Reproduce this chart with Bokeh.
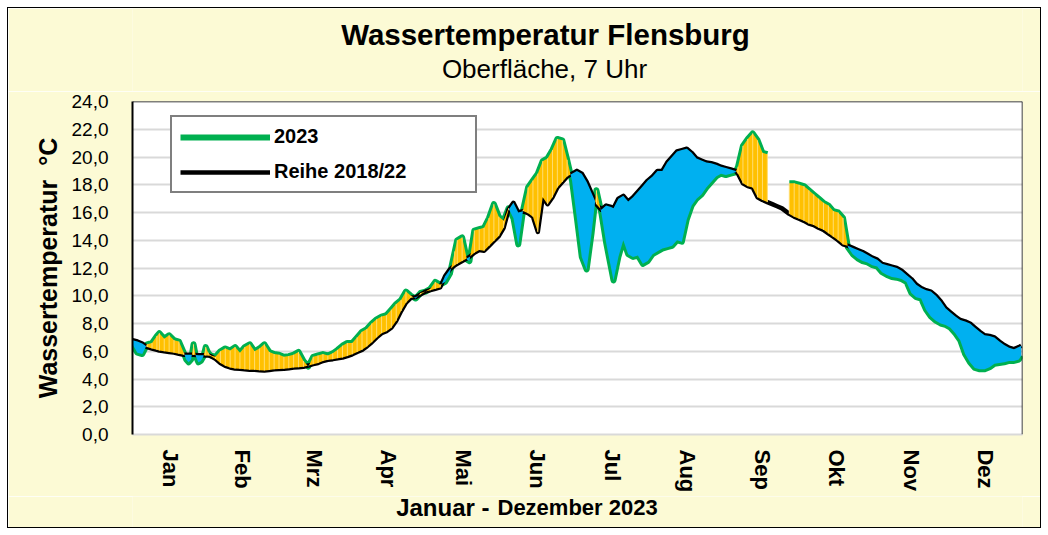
import numpy as np
from bokeh.plotting import figure
from bokeh.layouts import column
from bokeh.models import FixedTicker, Legend, LegendItem, Span, Range1d
from bokeh.core.properties import value
from bokeh.embed import file_html
from bokeh.resources import INLINE

# ---------------- data ----------------
months = ["Jan", "Feb", "Mrz", "Apr", "Mai", "Jun", "Jul", "Aug", "Sep", "Okt", "Nov", "Dez"]
month_len = [31, 28, 31, 30, 31, 30, 31, 31, 30, 31, 30, 31]
y_ticks = [0, 2, 4, 6, 8, 10, 12, 14, 16, 18, 20, 22, 24]

# day of year (0 = 1 Jan)
days = [0, 2, 4, 6, 8, 10, 11, 13, 15, 17, 19, 21, 22, 23, 24, 25, 26, 27, 28, 29,
        30, 31, 32, 34, 36, 38, 40, 42, 44, 46, 48, 50, 52, 54, 56, 58, 60, 62, 64, 66,
        68, 70, 72, 74, 76, 78, 80, 82, 84, 86, 88, 90, 92, 94, 96, 98, 100, 102, 104, 106,
        108, 110, 112, 114, 116, 118, 120, 122, 124, 126, 128, 130, 132, 133, 135, 137, 138, 140, 142, 144,
        146, 148, 150, 152, 154, 156, 158, 160, 162, 164, 166, 168, 170, 172, 174, 176, 178, 180, 182, 184,
        186, 188, 190, 192, 194, 196, 197, 199, 201, 203, 205, 207, 209, 211, 213, 215, 217, 219, 221, 223,
        225, 227, 229, 231, 233, 235, 237, 239, 241, 243, 245, 247, 248, 250, 252, 254, 256, 258, 260, 262,
        264, 266, 269, 271, 273, 275, 277, 279, 281, 283, 285, 287, 289, 291, 293, 295, 297, 299, 301, 303,
        305, 307, 309, 311, 313, 315, 317, 319, 321, 323, 325, 327, 329, 331, 333, 335, 337, 339, 341, 343,
        345, 347, 349, 351, 353, 355, 357, 359, 361, 363, 364]

nan = float("nan")
t_2023 = [6.5, 5.9, 5.8, 6.5, 6.6, 7.1, 7.3, 6.9, 7.15, 6.8, 6.7, 5.9, 5.4, 5.2, 5.4, 6.5, 5.6, 5.2, 5.3, 5.6,
          6.3, 5.9, 5.7, 5.6, 6.0, 6.2, 6.05, 6.3, 5.9, 6.3, 6.5, 6.0, 6.2, 6.5, 5.95, 5.8, 5.75, 5.6, 5.65, 5.75,
          5.95, 5.3, 4.9, 5.6, 5.7, 5.8, 5.7, 5.85, 6.1, 6.4, 6.6, 6.6, 7.0, 7.4, 7.6, 8.0, 8.3, 8.5, 8.6, 9.0,
          9.4, 9.7, 10.3, 10.0, 9.8, 10.2, 10.3, 10.5, 11.0, 10.8, 11.0, 11.6, 13.2, 14.0, 14.2, 12.6, 12.5, 14.7, 14.8, 14.9,
          15.6, 16.6, 15.7, 15.4, 16.3, 15.6, 13.7, 16.2, 17.8, 18.3, 18.8, 19.7, 19.9, 20.5, 21.3, 21.2, 19.8, 18.3, 15.6, 12.8,
          11.9, 14.5, 17.6, 16.0, 13.8, 12.0, 11.1, 12.8, 14.0, 13.0, 12.8, 12.9, 12.3, 12.5, 13.0, 13.2, 13.4, 13.5, 13.6, 14.0,
          13.9, 15.5, 16.5, 17.0, 17.3, 17.8, 18.2, 18.6, 18.8, 18.7, 18.8, 18.9, 19.3, 20.8, 21.3, 21.7, 21.2, 20.3, 20.2, nan,
          nan, nan, 18.1, 18.1, 18.0, 17.9, 17.6, 17.3, 17.0, 16.7, 16.5, 16.1, 16.0, 15.6, 13.5, 13.0, 12.7, 12.5, 12.4, 12.2,
          12.1, 11.7, 11.5, 11.35, 11.3, 11.2, 11.0, 10.2, 9.9, 9.8, 9.0, 8.5, 8.2, 8.0, 7.9, 7.7, 7.3, 6.8, 5.8, 5.2,
          4.8, 4.7, 4.7, 4.85, 5.1, 5.15, 5.2, 5.3, 5.3, 5.4, 5.7]

t_reihe = [6.8, 6.7, 6.55, 6.3, 6.2, 6.1, 6.05, 6.0, 5.95, 5.9, 5.82, 5.75, 5.75, 5.74, 5.74, 5.74, 5.73, 5.72, 5.72, 5.71,
           5.7, 5.7, 5.65, 5.45, 5.15, 4.95, 4.83, 4.75, 4.73, 4.7, 4.66, 4.66, 4.63, 4.62, 4.65, 4.7, 4.72, 4.73, 4.78, 4.83,
           4.85, 4.88, 4.97, 5.07, 5.15, 5.3, 5.38, 5.43, 5.5, 5.55, 5.65, 5.78, 5.95, 6.1, 6.35, 6.65, 7.0, 7.3, 7.45, 7.7,
           8.2, 8.9, 9.5, 9.85, 9.9, 10.1, 10.3, 10.4, 10.5, 10.6, 11.4, 11.9, 12.2, 12.3, 12.5, 12.7, 12.8, 13.1, 13.3, 13.25,
           13.6, 13.95, 14.3, 14.9, 16.2, 16.7, 16.0, 16.1, 15.95, 15.7, 14.6, 17.1, 16.6, 17.1, 17.8, 18.2, 18.6, 18.8, 19.0, 18.8,
           18.2, 17.4, 16.6, 16.2, 16.5, 16.4, 16.3, 17.0, 17.2, 16.8, 17.1, 17.5, 17.9, 18.3, 18.6, 19.0, 19.0, 19.6, 20.0, 20.4,
           20.5, 20.6, 20.3, 19.9, 19.75, 19.6, 19.55, 19.45, 19.3, 19.2, 19.1, 19.0, 18.8, 18.1, 17.9, 17.8, 17.1, 16.9, 16.75, 16.6,
           16.45, 16.3, 15.9, 15.7, 15.55, 15.4, 15.2, 15.1, 14.9, 14.75, 14.5, 14.25, 14.0, 13.7, 13.6, 13.45, 13.3, 13.15, 12.95, 12.75,
           12.6, 12.3, 12.2, 12.1, 12.0, 11.8, 11.5, 11.2, 10.8, 10.55, 10.4, 10.3, 10.0, 9.6, 9.1, 8.8, 8.5, 8.25, 8.15, 8.0,
           7.7, 7.4, 7.15, 7.1, 7.0, 6.7, 6.45, 6.25, 6.15, 6.3, 6.4]

title_text = "Wassertemperatur Flensburg"
subtitle_text = "Oberfläche, 7 Uhr"
xtitle_parts = ["Januar -", "Dezember 2023"]
ytitle_text = "Wassertemperatur\u00a0\u00a0°C"

# ---------------- styling ----------------
FONT = "Liberation Sans"
BG = "#FCFAD5"
GREEN = "#00B050"
GOLD = "#FFC000"
STRIPE = "#FFDD70"
BLUE = "#00B0F0"
W = 1032
HEAD_H, MAIN_H, FOOT_H = 83, 405, 31
FRAME_L, FRAME_R = 132, 1022     # page pixel span of the plot frame (header/footer align to it)


def text_strip(height):
    f = figure(width=W, height=height, output_backend="svg", toolbar_location=None, title=None,
               x_range=Range1d(FRAME_L, FRAME_R), y_range=Range1d(0, height),
               x_axis_type=None, y_axis_type=None, min_border=0,
               background_fill_color=BG, border_fill_color=BG)
    f.outline_line_color = None
    f.grid.visible = False
    return f


# ---- header with title and subtitle ----
head = text_strip(HEAD_H)
head.text(x=[545], y=[57], text=[title_text], text_font=value(FONT), text_font_size="29.5px",
          text_font_style="bold", text_color="black", text_align="center", text_baseline="alphabetic")
head.text(x=[544], y=[23], text=[subtitle_text], text_font=value(FONT), text_font_size="26px",
          text_font_style="normal", text_color="black", text_align="center", text_baseline="alphabetic")

# ---- footer with x-axis title ----
foot = text_strip(FOOT_H)
foot.text(x=[489], y=[20], text=[xtitle_parts[0]], text_font=value(FONT), text_font_size="24px",
          text_font_style="bold", text_color="black", text_align="right", text_baseline="alphabetic")
foot.text(x=[497], y=[20], text=[xtitle_parts[1]], text_font=value(FONT), text_font_size="22px",
          text_font_style="bold", text_color="black", text_align="left", text_baseline="alphabetic")

# ---- main chart ----
n_days = sum(month_len)
starts = np.cumsum([0] + month_len[:-1])
centers = []
for s, l in zip(starts, month_len):
    c = s + l / 2
    centers.append(int(c) if float(c).is_integer() else float(c))

p = figure(width=W, height=MAIN_H, output_backend="svg", toolbar_location=None, title=None,
           x_range=Range1d(0, n_days - 0.5), y_range=Range1d(0, 24),
           min_border_left=124, min_border_right=18, min_border_top=10, min_border_bottom=62,
           background_fill_color="white", border_fill_color=BG)

p.outline_line_color = None
p.xgrid.grid_line_color = None
p.ygrid.grid_line_color = "#D9D9D9"
p.ygrid.grid_line_width = 2
p.ygrid.ticker = FixedTicker(ticks=y_ticks)

p.yaxis.ticker = FixedTicker(ticks=y_ticks)
p.yaxis.major_label_overrides = {t: f"{t},0" for t in y_ticks}
p.yaxis.axis_line_color = "black"
p.yaxis.axis_line_width = 2
p.yaxis.major_tick_line_color = None
p.yaxis.minor_tick_line_color = None
p.yaxis.major_label_text_font = FONT
p.yaxis.major_label_text_font_size = "19px"
p.yaxis.major_label_text_color = "black"
p.yaxis.major_label_standoff = 18
p.yaxis.axis_label = ytitle_text
p.yaxis.axis_label_text_font = FONT
p.yaxis.axis_label_text_font_size = "25px"
p.yaxis.axis_label_text_font_style = "bold"
p.yaxis.axis_label_text_color = "black"
p.yaxis.axis_label_standoff = 7

p.xaxis.ticker = FixedTicker(ticks=centers)
p.xaxis.major_label_overrides = {c: m for c, m in zip(centers, months)}
p.xaxis.major_label_orientation = "vertical"
p.xaxis.axis_line_color = "#D9D9D9"
p.xaxis.axis_line_width = 2
p.xaxis.major_tick_line_color = None
p.xaxis.minor_tick_line_color = None
p.xaxis.major_label_text_font = FONT
p.xaxis.major_label_text_font_size = "22px"
p.xaxis.major_label_text_font_style = "bold"
p.xaxis.major_label_text_color = "black"
p.xaxis.major_label_standoff = 9

p.add_layout(Span(location=24, dimension="width", line_color="black", line_width=1.5))
p.add_layout(Span(location=n_days - 0.5, dimension="height", line_color="black", line_width=1.5))

x = np.array(days, dtype=float)
a = np.array(t_2023, dtype=float)
m = np.array(t_reihe, dtype=float)

r_green = p.line(x, a, line_color=GREEN, line_width=6, line_join="round")
r_black = p.line(x, m, line_color="black", line_width=4.5, line_join="round")

# fills between the two series (split at crossings and at the data gap)
valid = ~np.isnan(a)
runs = []
i = 0
while i < len(x):
    if valid[i]:
        j = i
        while j + 1 < len(x) and valid[j + 1]:
            j += 1
        runs.append((i, j))
        i = j + 1
    else:
        i += 1

for i0, i1 in runs:
    xs, ys, ms = [x[i0]], [a[i0]], [m[i0]]
    for k in range(i0, i1):
        d0 = a[k] - m[k]
        d1 = a[k + 1] - m[k + 1]
        if d0 * d1 < 0:
            f = d0 / (d0 - d1)
            xc = x[k] + f * (x[k + 1] - x[k])
            yc = m[k] + f * (m[k + 1] - m[k])
            xs.append(xc); ys.append(yc); ms.append(yc)
        xs.append(x[k + 1]); ys.append(a[k + 1]); ms.append(m[k + 1])
    xs = np.array(xs); ys = np.array(ys); ms = np.array(ms)
    p.varea(x=xs, y1=ms, y2=np.maximum(ys, ms), fill_color=GOLD)
    p.varea(x=xs, y1=np.minimum(ys, ms), y2=ms, fill_color=BLUE)

up = valid & (a > m)
p.segment(x0=x[up], y0=m[up], x1=x[up], y1=a[up], line_color=STRIPE, line_width=1)

legend = Legend(items=[LegendItem(label="2023", renderers=[r_green]),
                       LegendItem(label="Reihe 2018/22", renderers=[r_black])],
                location=(38, 241), orientation="vertical",
                label_text_font=FONT, label_text_font_size="20px", label_text_font_style="bold",
                label_text_color="black",
                glyph_width=90, glyph_height=20, label_standoff=4, label_width=193,
                spacing=12, padding=8, margin=0,
                border_line_color="black", border_line_width=2,
                background_fill_color="white", background_fill_alpha=1.0)
p.add_layout(legend)

layout = column(head, p, foot, spacing=0,
                styles={"margin": "7px 0 0 7px", "border": "1px solid black"})

open("out.html", "w").write(file_html(layout, INLINE))
